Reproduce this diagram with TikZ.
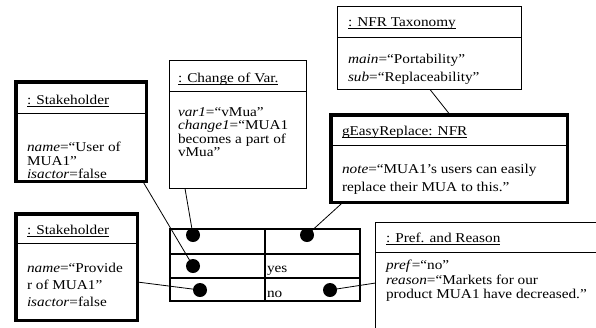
\documentclass[tikz,border=0pt]{standalone}
\usepackage{fontspec}
\setmainfont{Liberation Serif}[FakeStretch=1.13]
\newcommand\hdul[1]{\setbox0\hbox{#1}\rlap{\rule[-2.2pt]{\wd0}{0.7pt}}\box0}
\usetikzlibrary{calc}
\tikzset{
  thickbox/.style={draw, line width=3.5pt, inner sep=0pt, outer sep=0pt, anchor=north west},
  thinbox/.style={draw, line width=0.9pt, inner sep=0pt, outer sep=0pt, anchor=north west},
  tablebox/.style={draw, line width=2pt, inner sep=0pt, outer sep=0pt, anchor=north west},
  divline/.style={line width=0.9pt},
  gridline/.style={line width=2pt},
  txt/.style={anchor=base west, inner sep=0pt, outer sep=0pt, font=\fontsize{13.5}{15}\selectfont},
  blackdot/.style={circle, fill=black, draw=none, inner sep=0pt, minimum size=14pt},
  conn/.style={line width=0.8pt}
}
\begin{document}
\begin{tikzpicture}[x=1pt,y=-1pt]
\clip (0,0) rectangle (596,327);
% boxes
\node[thickbox, minimum width=130.5pt, minimum height=99.5pt] (b1) at (15.75,81.75) {};
\draw[divline] (15.75,113) -- (146.25,113);
\node[thickbox, minimum width=121.5pt, minimum height=106.5pt] (b2) at (15.75,213.75) {};
\draw[divline] (15.75,243.5) -- (137.25,243.5);
\node[thinbox, minimum width=137pt, minimum height=128pt] (cv) at (169.5,60.5) {};
\draw[divline] (169.5,91) -- (306.5,91);
\node[thinbox, minimum width=184pt, minimum height=83pt] (tx) at (337.5,6.5) {};
\draw[divline] (337.5,37) -- (521.5,37);
\node[thickbox, minimum width=236.5pt, minimum height=87.5pt] (ge) at (330.75,114.75) {};
\draw[divline] (330.75,145) -- (567.25,145);
\node[thinbox, minimum width=300pt, minimum height=200pt] (pr) at (375.5,222.5) {};
\draw[divline] (375.5,252) -- (596,252);
% table
\node[tablebox, minimum width=190pt, minimum height=72pt] (tb) at (170,229) {};
\draw[gridline] (170,254) -- (360,254);
\draw[gridline] (170,278) -- (360,278);
\draw[gridline] (265,229) -- (265,301);
% texts
\node[txt] (t1h) at (27,104.5) {\hdul{: Stakeholder}};
\node[txt] (t1a) at (27,151.5) {\textit{name}=“User of};
\node[txt] (t1b) at (27,165.5) {MUA1”};
\node[txt] (t1c) at (27,178.5) {\textit{isactor}=false};
\node[txt] (t2h) at (27,234) {\hdul{: Stakeholder}};
\node[txt] (t2a) at (27,272) {\textit{name}=“Provide};
\node[txt] (t2b) at (27,289) {r of MUA1”};
\node[txt] (t2c) at (27,306) {\textit{isactor}=false};
\node[txt] (tch) at (178,82) {\hdul{: Change of Var.}};
\node[txt] (tca) at (178,116) {\textit{var1}=“vMua”};
\node[txt] (tcb) at (178,129) {\textit{change1}=“MUA1};
\node[txt] (tcc) at (178,143) {becomes a part of};
\node[txt] (tcd) at (178,156) {vMua”};
\node[txt] (txh) at (348,26) {\hdul{: NFR Taxonomy}};
\node[txt] (txa) at (348,63) {\textit{main}=“Portability”};
\node[txt] (txb) at (348,81) {\textit{sub}=“Replaceability”};
\node[txt] (tgh) at (342,135) {\hdul{gEasyReplace: NFR}};
\node[txt] (tga) at (342,173) {\textit{note}=“MUA1’s users can easily};
\node[txt] (tgb) at (342,191) {replace their MUA to this.”};
\node[txt] (tph) at (386,242) {\hdul{: Pref. and Reason}};
\node[txt] (tpa) at (386,269) {\textit{pref}=“no”};
\node[txt] (tpb) at (386,284) {\textit{reason}=“Markets for our};
\node[txt] (tpc) at (386,298) {product MUA1 have decreased.”};
\node[txt] (tyes) at (267,272) {yes};
\node[txt] (tno) at (267,297) {no};
% dots
\node[blackdot] (d11) at (193,235) {};
\node[blackdot] (d12) at (307,235) {};
\node[blackdot] (d21) at (193,266) {};
\node[blackdot] (d31) at (200,290) {};
\node[blackdot] (d32) at (330,290) {};
% connectors
\draw[conn] ($(b1.south west)+(127,0)$) -- (d21.center);
\draw[conn] ($(cv.south west)+(15.5,0)$) -- (d11.center);
\draw[conn] ($(b2.north east)+(0,68.25)$) -- (d31.center);
\draw[conn] ($(ge.south west)+(12.25,0)$) -- (d12.center);
\draw[conn] ($(pr.north west)+(0,60.5)$) -- (d32.center);
\draw[conn] ($(tx.south west)+(92.5,0)$) -- ($(ge.north west)+(119.25,0)$);
\end{tikzpicture}
\end{document}
